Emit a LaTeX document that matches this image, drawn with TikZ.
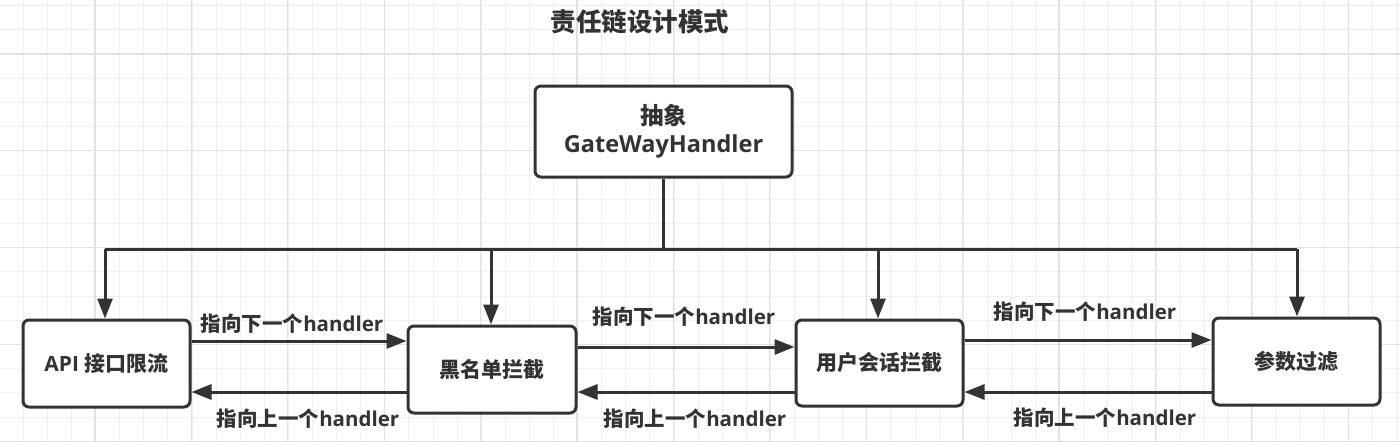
\documentclass[tikz,border=0pt]{standalone}
\usepackage{fontspec}
\setmainfont{Open Sans}
\newfontfamily\cjk{Noto Sans CJK SC}
\usetikzlibrary{arrows.meta,calc}
\newcommand\zh[1]{{\cjk\bfseries #1}}
\definecolor{ink}{HTML}{333333}
\definecolor{gridminor}{HTML}{EFEFEF}
\definecolor{gridmajor}{HTML}{E2E2E2}
\tikzset{
  box/.style={draw=ink, line width=3pt, rounded corners=6pt, fill=white, text=ink,
    font=\fontsize{21}{26}\selectfont\bfseries, align=center, inner sep=0pt},
  conn/.style={draw=ink, line width=3pt},
  arr/.style={conn, -{Triangle[length=20pt,width=15pt]}},
  lbl/.style={text=ink, font=\fontsize{20.5}{24}\selectfont\bfseries, inner sep=0pt},
}
\begin{document}
\begin{tikzpicture}[x=1pt,y=-1pt]
\useasboundingbox (0,0) rectangle (1400,442);
% grid
\foreach \i in {0,...,58} {
  \pgfmathsetmacro\gx{-0.8+24.1*\i}
  \draw[gridminor, line width=1pt] (\gx,0) -- (\gx,442);
}
\foreach \i in {0,...,18} {
  \pgfmathsetmacro\gy{5.6+24.2*\i}
  \draw[gridminor, line width=1pt] (0,\gy) -- (1400,\gy);
}
\foreach \i in {0,...,14} {
  \pgfmathsetmacro\gx{-1.4+96.4*\i}
  \draw[gridmajor, line width=1.2pt] (\gx,0) -- (\gx,442);
}
\foreach \i in {0,...,4} {
  \pgfmathsetmacro\gy{54+96.8*\i}
  \draw[gridmajor, line width=1.2pt] (0,\gy) -- (1400,\gy);
}
% title
\node[text=ink, font=\fontsize{25.5}{30}\selectfont\bfseries, inner sep=0pt] (title) at (640,22) {\zh{责任链设计模式}};
% boxes
\node[box, font=\fontsize{23.5}{29}\selectfont\bfseries, minimum width=257pt, minimum height=91pt] (top) at (663.5,131.5) {\zh{抽象}\\[-1pt]GateWayHandler};
\node[box, minimum width=167pt, minimum height=87pt] (a1) at (106.5,363.5) {API \zh{接口限流}};
\node[box, minimum width=168pt, minimum height=87pt] (a2) at (492,369.5) {\zh{黑名单拦截}};
\node[box, minimum width=167pt, minimum height=86pt] (a3) at (879.5,363) {\zh{用户会话拦截}};
\node[box, minimum width=167pt, minimum height=87pt] (a4) at (1296.5,361.5) {\zh{参数过滤}};
% bus
\coordinate (busL) at (105,249);
\coordinate (busR) at (1297,249);
\draw[conn] (top.south) -- (top.south |- busL);
\draw[conn] (busL) -- (busR);
\draw[arr] (busL) -- (busL |- a1.north);
\draw[arr] ([xshift=-1pt]a2.north |- busL) -- ([xshift=-1pt]a2.north);
\draw[arr] ([xshift=-1.5pt]a3.north |- busL) -- ([xshift=-1.5pt]a3.north);
\draw[arr] (busR) -- (busR |- a4.north);
% chain arrows
\draw[arr] ([yshift=22.5pt]a1.east) -- ([yshift=22.5pt]a1.east -| a2.west);
\draw[arr] ([yshift=-22.5pt]a2.west) -- ([yshift=-22.5pt]a2.west -| a1.east);
\draw[arr] ([yshift=22.5pt]a2.east) -- ([yshift=22.5pt]a2.east -| a3.west);
\draw[arr] ([yshift=-29pt]a3.west) -- ([yshift=-29pt]a3.west -| a2.east);
\draw[arr] ([yshift=23pt]a3.east) -- ([yshift=23pt]a3.east -| a4.west);
\draw[arr] ([yshift=-30.5pt]a4.west) -- ([yshift=-30.5pt]a4.west -| a3.east);
% labels
\node[lbl] (n1) at (292,324) {\zh{指向下一个}handler};
\node[lbl] (p1) at (308,419) {\zh{指向上一个}handler};
\node[lbl] (n2) at (684,317) {\zh{指向下一个}handler};
\node[lbl] (p2) at (695,419) {\zh{指向上一个}handler};
\node[lbl] (n3) at (1085,312) {\zh{指向下一个}handler};
\node[lbl] (p3) at (1105,418) {\zh{指向上一个}handler};
\end{tikzpicture}
\end{document}
